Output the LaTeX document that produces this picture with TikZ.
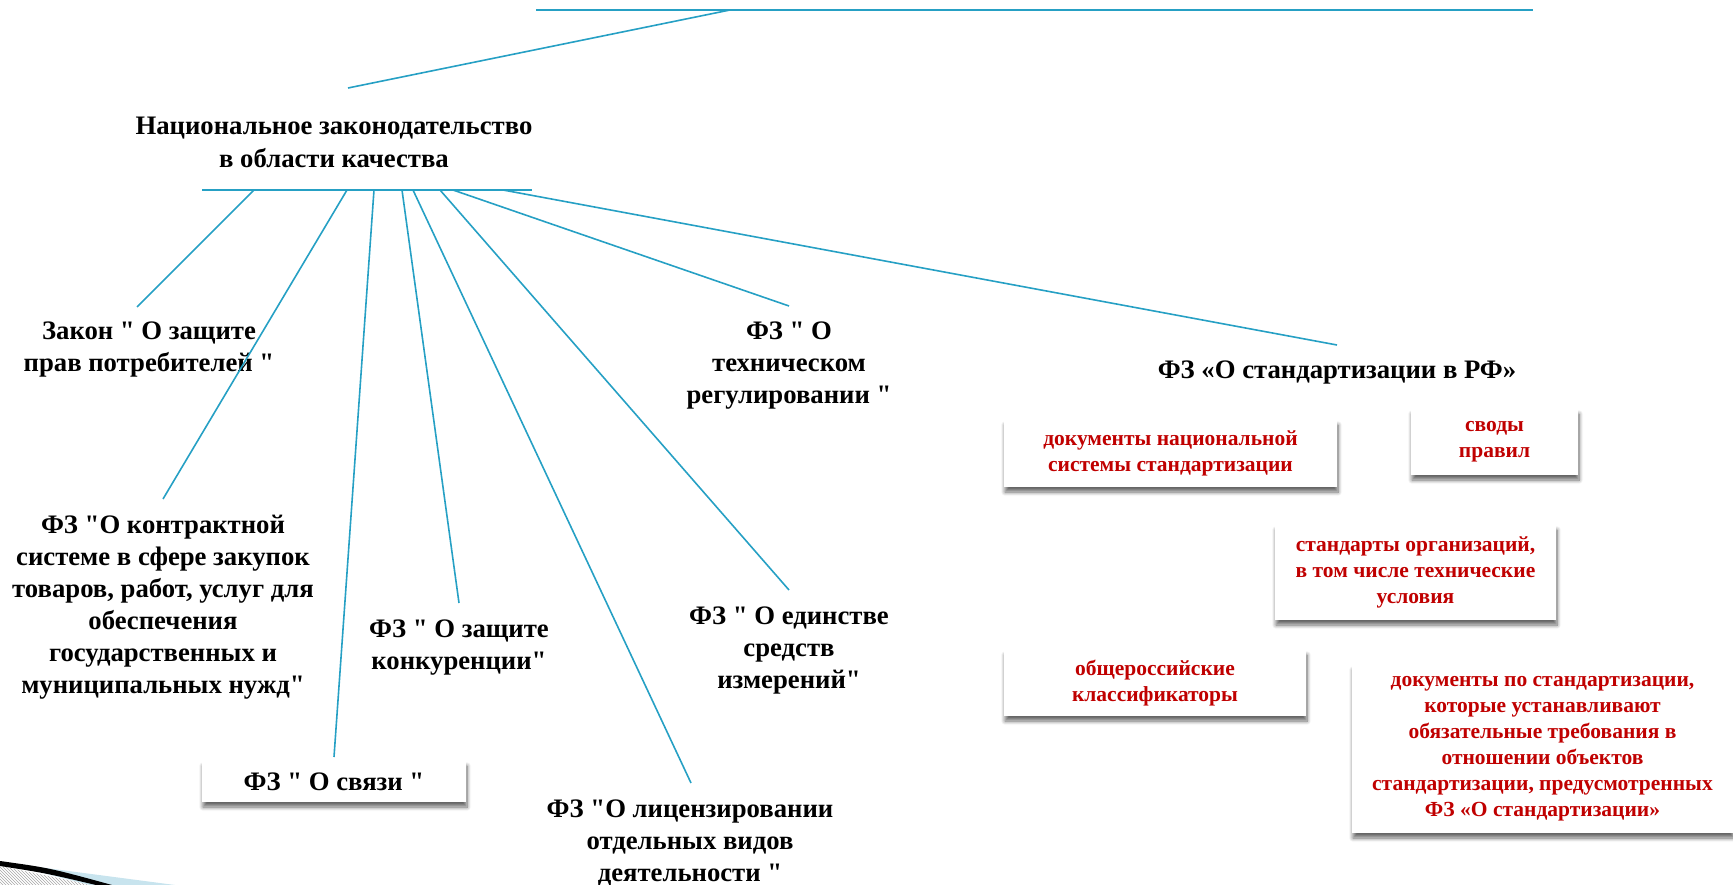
\documentclass[tikz,border=0pt]{standalone}
\usepackage{fontspec}
\setmainfont{Liberation Serif}[Ligatures=TeXOff]
\usetikzlibrary{shadows.blur,patterns}
\definecolor{linkblue}{RGB}{38,160,196}
\definecolor{notered}{RGB}{192,0,0}
\definecolor{curlblue}{RGB}{200,228,238}
\tikzset{
  link/.style={draw=linkblue, line width=1.6pt},
  law/.style={font={\bfseries\fontsize{26.7}{32}\selectfont}, align=center, inner sep=0pt, text=black},
  card/.style={fill=white, draw=none, inner sep=0pt,
    blur shadow={shadow xshift=1pt, shadow yshift=-5pt, shadow blur radius=4pt,
                 shadow blur steps=8, shadow opacity=60}},
  redcard/.style={card, font={\bfseries\fontsize{21.5}{26}\selectfont}, text=notered, align=center},
}
\begin{document}
\begin{tikzpicture}[x=1pt,y=-1pt]
\useasboundingbox (0,0) rectangle (1733,885);

% page-curl ornament in the lower left corner
\fill[pattern=north west lines, pattern color=gray!70] (0,866) -- (92,885) -- (0,885) -- cycle;
\fill[curlblue] (0,862) -- (175,885) -- (90,885) -- cycle;
\fill[black] (0,861) .. controls (50,868) .. (112,885) -- (96,885) .. controls (45,873) .. (0,866) -- cycle;

% top bar and its link to the heading
\coordinate (topL) at (536,10);
\coordinate (topR) at (1533,10);
\coordinate (topJ) at (730,10);
\coordinate (tip) at (348,88);
\draw[link] (topL) -- (topR);
\draw[link] (topJ) -- (tip);

% heading and the bar beneath it
\node[law, font={\bfseries\fontsize{26.7}{33}\selectfont}] (title) at (334,142) {Национальное законодательство\\в области качества};
\coordinate (barL) at (202,190);
\coordinate (barR) at (532,190);
\draw[link] (barL) -- (barR);

% federal laws
\node[law] (zakon) at (149,350) {Закон " О защите\\прав потребителей "};
\node[law] (kontr) at (163,607) {ФЗ "О контрактной\\системе в сфере закупок\\товаров, работ, услуг для\\обеспечения\\государственных и\\муниципальных нужд"};
\node[law, card, minimum width=264pt, minimum height=41pt] (svyaz) at (334,781.5) {ФЗ " О связи "};
\node[law] (konk) at (459,648) {ФЗ " О защите\\конкуренции"};
\node[law] (lic) at (690,843) {ФЗ "О лицензировании\\отдельных видов\\деятельности "};
\node[law] (edin) at (789,650) {ФЗ " О единстве\\средств\\измерений"};
\node[law] (tech) at (789,366) {ФЗ " О\\техническом\\регулировании "};
\node[law] (stand) at (1337,373) {ФЗ «О стандартизации в РФ»};

% documents of the standardisation system
\node[redcard, minimum width=333pt, minimum height=67pt] (nss) at (1170.5,453.5) {документы национальной\\системы стандартизации};
\node[redcard, minimum width=167pt, minimum height=66pt] (svody) at (1494.5,442) {своды\\правил};
\node[redcard, minimum width=281pt, minimum height=95pt] (sto) at (1415.5,572.5) {стандарты организаций,\\в том числе технические\\условия};
\node[redcard, minimum width=302pt, minimum height=66pt] (okk) at (1155,683) {общероссийские\\классификаторы};
\node[redcard, minimum width=381pt, minimum height=168pt] (obyaz) at (1542.5,749) {документы по стандартизации,\\которые устанавливают\\обязательные требования в\\отношении объектов\\стандартизации, предусмотренных\\ФЗ «О стандартизации»};

% branches from the bar to each law
\foreach \n/\sx/\ex/\ey in {1/254/137/307, 2/347/163/499, 3/374/334/757, 4/402/459/603,
                            5/413/691/783, 6/440/789/590, 7/453/789/306, 8/503/1337/345} {
  \coordinate (s\n) at (\sx,190);
  \coordinate (e\n) at (\ex,\ey);
  \draw[link] (s\n) -- (e\n);
}
\end{tikzpicture}
\end{document}
